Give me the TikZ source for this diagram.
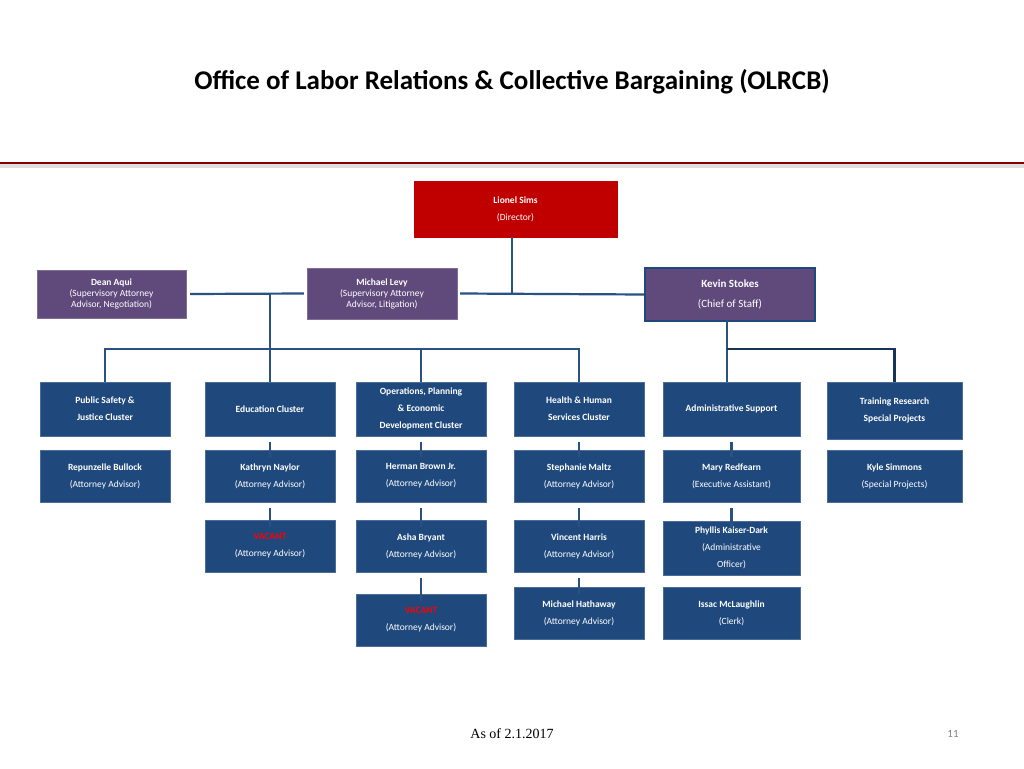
\documentclass[tikz,border=0pt]{standalone}
\usepackage{fontspec}
\setmainfont{Carlito}
\newfontfamily\footfont{Liberation Serif}
\definecolor{boxblue}{HTML}{1F497D}
\definecolor{boxpurple}{HTML}{604A7B}
\definecolor{boxred}{HTML}{C00000}
\definecolor{linkblue}{HTML}{2A5183}
\tikzset{
  unit/.style={draw=boxblue!80!white, fill=boxblue, text=white, align=center,
    font=\fontsize{9.5}{17}\selectfont, inner sep=0pt},
  cluster/.style={unit, minimum width=130, minimum height=54, font=\bfseries\fontsize{9.5}{17}\selectfont},
  staff/.style={unit, minimum width=130, minimum height=52},
  super/.style={unit, fill=boxpurple, draw=boxpurple!80!white, font=\fontsize{9.5}{11}\selectfont},
  link/.style={draw=linkblue, line width=2.2pt},
  tick/.style={draw=linkblue, line width=2.5pt},
}
\begin{document}
\begin{tikzpicture}[x=1pt,y=-1pt]
  \useasboundingbox (0,0) rectangle (1024,768);

  % title and rule
  \node (title) at (512,82) {\bfseries\fontsize{27}{30}\selectfont Office of Labor Relations \& Collective Bargaining (OLRCB)};
  \fill[gray!25] (0,164) rectangle (1024,168);
  \draw[boxred!70!black, line width=2pt] (0,162.5) -- (1024,162.5);

  % top
  \node (dir) [unit, fill=boxred, draw=boxred, minimum width=203, minimum height=56] at (515.5,209)
      {\textbf{Lionel Sims}\\(Director)};
  \node (aqui) [super, minimum width=149, minimum height=48] at (111.5,294)
      {\textbf{Dean Aqui}\\(Supervisory Attorney\\Advisor, Negotiation)};
  \node (levy) [super, minimum width=150, minimum height=51] at (382,293.5)
      {\textbf{Michael Levy}\\(Supervisory Attorney\\Advisor, Litigation)};
  \node (chief) [super, draw=boxblue, line width=1.2pt, minimum width=170, minimum height=53,
      font=\fontsize{11}{20}\selectfont] at (730,294.5)
      {\textbf{Kevin Stokes}\\(Chief of Staff)};

  % clusters
  \node (pubsafe) [cluster] at (105,409) {Public Safety \&\\Justice Cluster};
  \node (edu) [cluster] at (270,409) {Education Cluster};
  \node (ops) [cluster] at (421,409) {Operations, Planning\\\& Economic\\Development Cluster};
  \node (hhs) [cluster] at (579,409) {Health \& Human\\Services Cluster};
  \node (admin) [cluster, minimum width=137] at (731.5,409) {Administrative Support};
  \node (train) [cluster, minimum width=135, minimum height=57] at (894.5,410.5) {Training Research\\Special Projects};

  % staff
  \node (bullock) [staff] at (105,476) {\textbf{Repunzelle Bullock}\\(Attorney Advisor)};
  \node (naylor) [staff] at (270,476) {\textbf{Kathryn Naylor}\\(Attorney Advisor)};
  \node (brown) [staff] at (421,476) {\textbf{Herman Brown Jr.}\\(Attorney Advisor)};
  \node (maltz) [staff] at (579,476) {\textbf{Stephanie Maltz}\\(Attorney Advisor)};
  \node (redfearn) [staff, minimum width=137] at (731.5,476) {\textbf{Mary Redfearn}\\(Executive Assistant)};
  \node (simmons) [staff, minimum width=135] at (894.5,476) {\textbf{Kyle Simmons}\\(Special Projects)};

  \node (vacedu) [staff] at (270,546) {\textbf{\textcolor{red}{VACANT}}\\(Attorney Advisor)};
  \node (bryant) [staff] at (421,546) {\textbf{Asha Bryant}\\(Attorney Advisor)};
  \node (harris) [staff] at (579,546) {\textbf{Vincent Harris}\\(Attorney Advisor)};
  \node (kaiser) [staff, minimum width=137, minimum height=54] at (731.5,548) {\textbf{Phyllis Kaiser-Dark}\\(Administrative\\Officer)};

  \node (vacops) [staff] at (421,620) {\textbf{\textcolor{red}{VACANT}}\\(Attorney Advisor)};
  \node (hathaway) [staff] at (579,613) {\textbf{Michael Hathaway}\\(Attorney Advisor)};
  \node (mclaughlin) [staff, minimum width=137] at (731.5,613) {\textbf{Issac McLaughlin}\\(Clerk)};

  % connectors
  \coordinate (hub) at (512,294);
  \coordinate (split) at (270,294);
  \coordinate (bus) at (270,349);
  \coordinate (kbus) at (727,349);
  \draw[link] (512,237) -- (hub);
  \draw[link] (aqui.east) ++(4,0) -- ([xshift=-3]levy.west);
  \draw[link] ([xshift=3]levy.east) -- (chief.west);
  \draw[link] (split) -- (edu.north);
  \draw[link] (pubsafe.north) |- (bus) -| (hhs.north);
  \draw[link] (bus -| ops.north) -- (ops.north);
  \draw[link] (727,321) -- (727,382);
  \draw[link, line width=2.6pt, draw=boxblue!70!black] (kbus) -| (train.north);

  % ticks
  \foreach \a/\b in {edu/naylor, naylor/vacedu, ops/brown, brown/bryant, bryant/vacops,
                     hhs/maltz, maltz/harris, harris/hathaway, admin/redfearn, redfearn/kaiser}
    \draw[tick] ([yshift=-6]\a.south) -- ([yshift=-7,xshift=0]\a.south |- \b.north) ++(0,0);

  % footer
  \node (asof) at (512,734) {\footfont\fontsize{14}{16}\selectfont As of 2.1.2017};
  \node (page) [text=gray] at (953,734) {\fontsize{11}{12}\selectfont 11};
\end{tikzpicture}
\end{document}
